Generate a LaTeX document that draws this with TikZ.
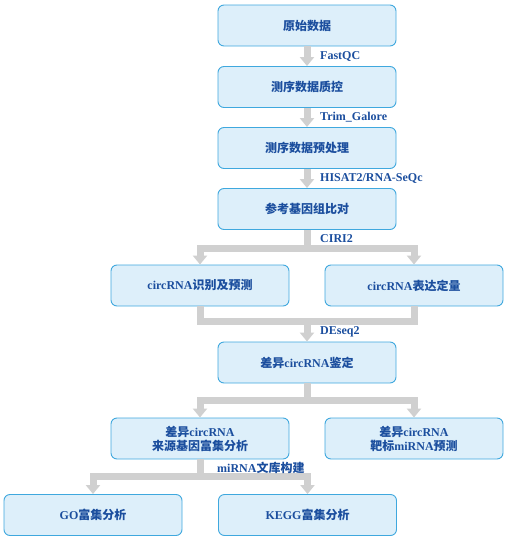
\documentclass[tikz,border=0pt]{standalone}
\usepackage{fontspec}
\setmainfont{Liberation Serif}
\newfontfamily\cjk{Noto Sans CJK SC}
\usetikzlibrary{calc,arrows.meta}
\definecolor{boxfill}{HTML}{DDEFFA}
\definecolor{boxline}{HTML}{3FA8DE}
\definecolor{txtblue}{HTML}{1B4E9E}
\definecolor{flowgray}{HTML}{D0D0D0}
\newcommand{\zh}[1]{{\cjk #1}}

\begin{document}
\begin{tikzpicture}[x=1pt, y=-1pt,
  stage/.style={draw=boxline, fill=boxfill, line width=0.9pt, rounded corners=6pt,
    minimum width=178pt, minimum height=41pt, inner sep=2pt, align=center,
    text=txtblue, font=\bfseries\fontsize{12}{14}\selectfont},
  tool/.style={anchor=west, inner sep=0pt, text=txtblue, font=\bfseries\fontsize{12}{14}\selectfont},
  pipe/.style={draw=flowgray, line width=7pt},
  flow/.style={pipe, -{Triangle[width=14pt,length=9pt]}}]
  \useasboundingbox (0,0) rectangle (512,546);

  \node[stage] (raw)    at (307,25.5)  {\zh{原始数据}};
  \node[stage] (qc)     at (307,87)    {\zh{测序数据质控}};
  \node[stage] (pre)    at (307,148)   {\zh{测序数据预处理}};
  \node[stage] (align)  at (307,209)   {\zh{参考基因组比对}};
  \node[stage] (ident)  at (200,285.5) {circRNA\zh{识别及预测}};
  \node[stage] (quant)  at (414,285.5) {circRNA\zh{表达定量}};
  \node[stage] (diff)   at (307,362.5) {\zh{差异}circRNA\zh{鉴定}};
  \node[stage] (origin) at (200,438.5) {\zh{差异}circRNA\\\zh{来源基因富集分析}};
  \node[stage] (target) at (414,438.5) {\zh{差异}circRNA\\\zh{靶标}miRNA\zh{预测}};
  \node[stage] (go)     at (93,515)    {GO\zh{富集分析}};
  \node[stage] (kegg)   at (307.5,515) {KEGG\zh{富集分析}};

  \coordinate (split1) at (307,248);
  \coordinate (merge1) at (307,321.5);
  \coordinate (split2) at (307,400);
  \coordinate (split3) at (200,476.5);

  \draw[flow] (raw) -- (qc);
  \draw[flow] (qc) -- (pre);
  \draw[flow] (pre) -- (align);

  \draw[pipe] (align) -- (split1);
  \draw[flow] (split1) -| (ident);
  \draw[flow] (split1) -| (quant);

  \draw[pipe] (ident) |- (merge1) -| (quant);
  \draw[flow] (merge1) -- (diff);

  \draw[pipe] (diff) -- (split2);
  \draw[flow] (split2) -| (origin);
  \draw[flow] (split2) -| (target);

  \draw[pipe] (origin) -- (split3);
  \draw[flow] (split3) -| (go);
  \draw[flow] (split3) -| (kegg);

  \node[tool, xshift=13pt] at ($(raw.south)!0.5!(qc.north)$) {FastQC};
  \node[tool, xshift=13pt] at ($(qc.south)!0.5!(pre.north)$) {Trim\_Galore};
  \node[tool, xshift=13pt] at ($(pre.south)!0.5!(align.north)$) {HISAT2/RNA-SeQc};
  \node[tool, xshift=13pt] at ($(align.south)!0.5!(split1)$) {CIRI2};
  \node[tool, xshift=13pt] at ($(merge1)!0.5!(diff.north)$) {DEseq2};
  \node[tool, xshift=17pt, yshift=9pt] at (split3) {miRNA\zh{文库构建}};
\end{tikzpicture}
\end{document}
